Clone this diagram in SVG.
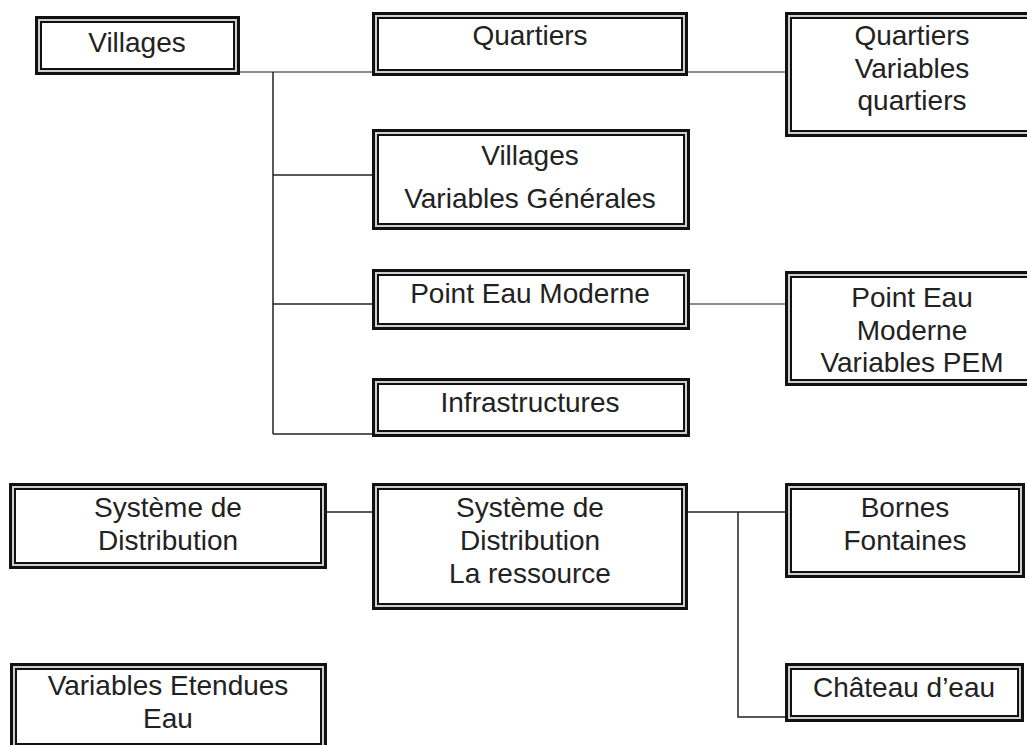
<svg xmlns="http://www.w3.org/2000/svg" width="1027" height="745" viewBox="0 0 1027 745">
<style>
.o{fill:#cfcfcf;stroke:#111;stroke-width:3}
.i{fill:#fff;stroke:#111;stroke-width:2}
text{font-family:"Liberation Sans",Arial,sans-serif;font-size:28px;fill:#222;text-anchor:middle}
.c{stroke:#222;stroke-width:1.5;fill:none}
.g{stroke:#666;stroke-width:1.5;fill:none}
</style>
<rect width="1027" height="745" fill="#fff"/>
<g id="connectors">
<line class="g" x1="240" y1="72" x2="372" y2="72"/>
<line class="g" x1="688" y1="72" x2="785" y2="72"/>
<line class="c" x1="273" y1="72" x2="273" y2="434"/>
<line class="c" x1="273" y1="175" x2="372" y2="175"/>
<line class="c" x1="273" y1="304" x2="372" y2="304"/>
<line class="g" x1="690" y1="304" x2="785" y2="304"/>
<line class="c" x1="273" y1="434" x2="372" y2="434"/>
<line class="c" x1="327" y1="512" x2="372" y2="512"/>
<line class="c" x1="688" y1="512" x2="785" y2="512"/>
<polyline class="c" points="738,512 738,717 785,717"/>
</g>
<g id="villages">
<rect class="o" x="36.5" y="17.5" width="202" height="56"/><rect class="i" x="41" y="22" width="193" height="47"/>
<text x="137" y="52">Villages</text>
</g>
<g id="quartiers">
<rect class="o" x="373.5" y="13.5" width="313" height="61"/><rect class="i" x="378" y="18" width="304" height="52"/>
<text x="530" y="45">Quartiers</text>
</g>
<g id="quartiers-variables">
<rect class="o" x="786.5" y="13.5" width="252" height="122"/><rect class="i" x="791" y="18" width="243" height="113"/>
<text x="912" y="45">Quartiers</text>
<text x="912" y="78">Variables</text>
<text x="912" y="110">quartiers</text>
</g>
<g id="villages-variables">
<rect class="o" x="373.5" y="130.5" width="315" height="98"/><rect class="i" x="378" y="135" width="306" height="89"/>
<text x="530" y="165">Villages</text>
<text x="530" y="208">Variables Générales</text>
</g>
<g id="point-eau-moderne">
<rect class="o" x="373.5" y="270.5" width="315" height="58"/><rect class="i" x="378" y="275" width="306" height="49"/>
<text x="530" y="303">Point Eau Moderne</text>
</g>
<g id="pem-variables">
<rect class="o" x="786.5" y="272.5" width="252" height="112"/><rect class="i" x="791" y="277" width="243" height="103"/>
<text x="912" y="307">Point Eau</text>
<text x="912" y="340">Moderne</text>
<text x="912" y="372">Variables PEM</text>
</g>
<g id="infrastructures">
<rect class="o" x="373.5" y="379.5" width="315" height="56"/><rect class="i" x="378" y="384" width="306" height="47"/>
<text x="530" y="412">Infrastructures</text>
</g>
<g id="systeme-distribution">
<rect class="o" x="10.5" y="484.5" width="315" height="83"/><rect class="i" x="15" y="489" width="306" height="74"/>
<text x="168" y="517">Système de</text>
<text x="168" y="550">Distribution</text>
</g>
<g id="systeme-ressource">
<rect class="o" x="373.5" y="484.5" width="313" height="124"/><rect class="i" x="378" y="489" width="304" height="115"/>
<text x="530" y="517">Système de</text>
<text x="530" y="550">Distribution</text>
<text x="530" y="583">La ressource</text>
</g>
<g id="bornes-fontaines">
<rect class="o" x="786.5" y="484.5" width="237" height="92"/><rect class="i" x="791" y="489" width="228" height="83"/>
<text x="905" y="517">Bornes</text>
<text x="905" y="550">Fontaines</text>
</g>
<g id="variables-etendues">
<rect class="o" x="11.5" y="664.5" width="314" height="84"/><rect class="i" x="16" y="669" width="305" height="75"/>
<text x="168" y="695">Variables Etendues</text>
<text x="168" y="728">Eau</text>
</g>
<g id="chateau-eau">
<rect class="o" x="786.5" y="664.5" width="236" height="56"/><rect class="i" x="791" y="669" width="227" height="47"/>
<text x="904" y="697">Château d’eau</text>
</g>
</svg>
